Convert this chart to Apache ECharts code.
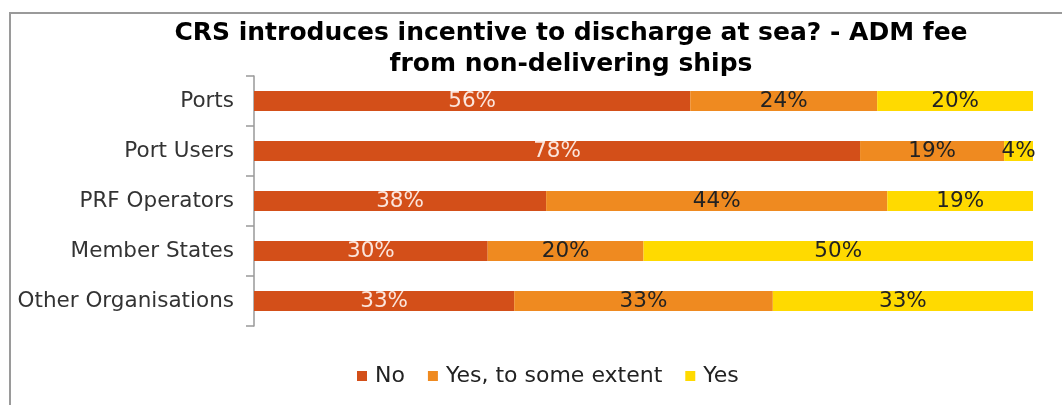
<!DOCTYPE html>
<html><head><meta charset="utf-8">
<script src="https://cdn.jsdelivr.net/npm/echarts@6/dist/echarts.min.js"></script>
<style>html,body{margin:0;padding:0;background:#fff}#c{width:1062px;height:405px}</style>
</head><body><div id="c"></div>
<script>
const categories = ['Ports', 'Port Users', 'PRF Operators', 'Member States', 'Other Organisations'];
const seriesNames = ['No', 'Yes, to some extent', 'Yes'];
const noValues = [56, 77.8, 37.5, 30, 33.4];
const someValues = [24, 18.5, 43.8, 20, 33.2];
const yesValues = [20, 3.7, 18.7, 50, 33.4];
const colors = ['#D34F19', '#EF8A20', '#FFDA00'];
const labelColors = ['#FBE5DC', '#222222', '#222222'];
const FONT = "'DejaVu Sans'";

const chart = echarts.init(document.getElementById('c'));
const mk = (name, data, i) => ({
  name, type: 'bar', stack: 'all', data, barWidth: '40%',
  itemStyle: { color: colors[i] },
  label: { show: true, position: 'inside', color: labelColors[i], fontFamily: FONT, fontSize: 21.5,
    formatter: p => Math.round(p.value) + '%' },
  emphasis: { disabled: true }
});
chart.setOption({
  animation: false,
  graphic: [{ type: 'rect', shape: { x: 10, y: 13, width: 1070, height: 400 },
    style: { fill: 'none', stroke: '#9a9a9a', lineWidth: 2 }, silent: true }],
  title: { text: 'CRS introduces incentive to discharge at sea? - ADM fee\nfrom non-delivering ships',
    left: 566, textAlign: 'center', top: 13,
    textStyle: { fontFamily: FONT, fontWeight: 'bold', fontSize: 25, lineHeight: 31, color: '#000' } },
  legend: { bottom: 13, left: 352, itemWidth: 10, itemHeight: 10, itemGap: 23,
    icon: 'rect', textStyle: { fontFamily: FONT, fontSize: 22, color: '#222', padding: [0, 0, 0, 3] }, data: seriesNames },
  grid: { left: 254, right: 29, top: 76, bottom: 79, containLabel: false },
  xAxis: { type: 'value', min: 0, max: 100, show: false },
  yAxis: { type: 'category', data: categories, inverse: true,
    axisLine: { show: true, lineStyle: { color: '#999', width: 1.5 } },
    axisTick: { show: true, length: 8, lineStyle: { color: '#999', width: 1.5 } },
    axisLabel: { fontFamily: FONT, fontSize: 21.5, color: '#333', margin: 20 } },
  series: [mk(seriesNames[0], noValues, 0), mk(seriesNames[1], someValues, 1), mk(seriesNames[2], yesValues, 2)]
});
</script></body></html>
